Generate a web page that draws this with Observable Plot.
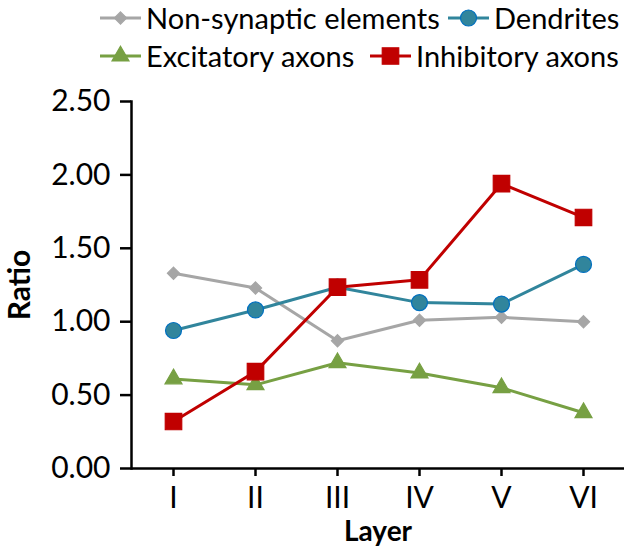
<!DOCTYPE html>
<html>
<head>
<meta charset="utf-8">
<script src="https://cdn.jsdelivr.net/npm/d3@7"></script>
<script src="https://cdn.jsdelivr.net/npm/@observablehq/plot@0.6"></script>
<style>
  html, body { margin: 0; padding: 0; background: #fff; }
  #wrap { position: relative; width: 627px; height: 554px; font-family: Lato, "DejaVu Sans", sans-serif; }
  #legend { position: relative; width: 627px; height: 80px; }
  .item { position: absolute; display: flex; align-items: center; font-size: 29px; color: #000; white-space: nowrap; }
  .item svg { margin-right: 5px; }
  #chart { position: absolute; left: 0; top: 80px; }
</style>
</head>
<body>
<div id="wrap">
  <div id="legend"></div>
  <div id="chart"></div>
</div>
<script>
const layers = ["I", "II", "III", "IV", "V", "VI"];
const nonSynaptic = [1.33, 1.23, 0.87, 1.01, 1.03, 1.00];
const dendrites   = [0.94, 1.08, 1.235, 1.13, 1.12, 1.39];
const excitatory  = [0.61, 0.57, 0.72, 0.65, 0.55, 0.38];
const inhibitory  = [0.32, 0.66, 1.235, 1.285, 1.94, 1.71];
const yTicks = [0, 0.5, 1, 1.5, 2, 2.5];
const seriesNames = ["Non-synaptic elements", "Dendrites", "Excitatory axons", "Inhibitory axons"];

const series = [
  {name: seriesNames[0], values: nonSynaptic, line: "#A6A6A6", fill: "#A6A6A6", stroke: "#A6A6A6", symbol: "diamond2", r: 5.5},
  {name: seriesNames[1], values: dendrites, line: "#31859C", fill: "#31859C", stroke: "#0070C0", symbol: "circle", r: 8},
  {name: seriesNames[2], values: excitatory, line: "#77A043", fill: "#77A043", stroke: "#77A043", symbol: "triangle", r: 6.3},
  {name: seriesNames[3], values: inhibitory, line: "#C00000", fill: "#C00000", stroke: "#C00000", symbol: "square", r: 9.3}
];

const rows = series.flatMap(s => layers.map((l, i) => ({series: s.name, layer: l, value: s.values[i]})));

const marks = [
  Plot.axisY({ticks: yTicks, tickFormat: d => d.toFixed(2), tickSize: 11, tickPadding: 10, strokeWidth: 2.5, fontSize: 30, label: null}),
  Plot.axisX({tickSize: 8, tickPadding: 10, strokeWidth: 2.5, fontSize: 30, label: null}),
  Plot.ruleY([0], {strokeWidth: 2.5, stroke: "#000"}),
  Plot.frame({anchor: "left", strokeWidth: 2.5, stroke: "#000"})
];
for (const s of series) {
  const d = rows.filter(r => r.series === s.name);
  marks.push(Plot.lineY(d, {x: "layer", y: "value", stroke: s.line, strokeWidth: 3}));
}
for (const s of series) {
  const d = rows.filter(r => r.series === s.name);
  marks.push(Plot.dot(d, {x: "layer", y: "value", symbol: () => s.symbol, fill: s.fill, stroke: s.stroke, strokeWidth: 1.2, r: s.r}));
}
marks.push(Plot.text(["Ratio"], {frameAnchor: "left", textAnchor: "middle", dx: -111, rotate: -90, fontWeight: "bold", fontSize: 30, fill: "#000"}));
marks.push(Plot.text(["Layer"], {frameAnchor: "bottom", textAnchor: "middle", dy: 72, fontWeight: "bold", fontSize: 28, fill: "#000"}));

const chart = Plot.plot({
  width: 627,
  height: 474,
  marginTop: 21,
  marginBottom: 86,
  marginLeft: 131,
  marginRight: 3,
  style: {fontFamily: "Lato, 'DejaVu Sans', sans-serif", color: "#000", background: "#fff", overflow: "visible"},
  x: {domain: layers, type: "band", padding: 0},
  y: {domain: [0, 2.5]},
  symbol: {type: "identity"},
  marks
});
document.getElementById("chart").appendChild(chart);

// Legend
const legendPos = [
  {left: 100, top: 0},
  {left: 448, top: 0},
  {left: 100, top: 38},
  {left: 370, top: 38}
];
const legend = document.getElementById("legend");
series.forEach((s, i) => {
  const div = document.createElement("div");
  div.className = "item";
  div.style.left = legendPos[i].left + "px";
  div.style.top = legendPos[i].top + "px";
  const sym = d3.symbol(
    {diamond2: d3.symbolDiamond2, circle: d3.symbolCircle, triangle: d3.symbolTriangle, square: d3.symbolSquare}[s.symbol],
    Math.PI * s.r * s.r
  )();
  div.innerHTML = `<svg width="41" height="34"><line x1="0" x2="41" y1="17" y2="17" stroke="${s.line}" stroke-width="3"/>` +
    `<path d="${sym}" transform="translate(20.5,17)" fill="${s.fill}" stroke="${s.stroke}" stroke-width="1.2"/></svg><span>${s.name}</span>`;
  legend.appendChild(div);
});
</script>
</body>
</html>
